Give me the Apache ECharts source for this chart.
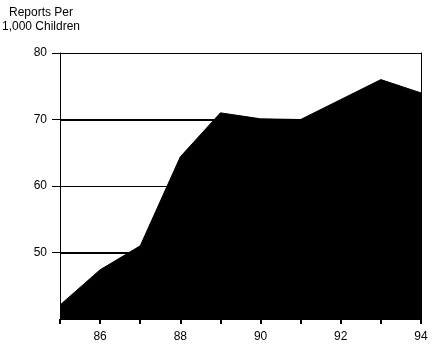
<!DOCTYPE html>
<html><head><meta charset="utf-8">
<script src="https://cdn.jsdelivr.net/npm/echarts@6/dist/echarts.min.js"></script>
<style>html,body{margin:0;padding:0;background:#fff}#c{width:436px;height:350px}</style>
</head><body><div id="c"></div>
<script>
const years = [85, 86, 87, 88, 89, 90, 91, 92, 93, 94];
const reports = [42.1, 47.4, 51.0, 64.4, 71.0, 70.1, 70.0, 73.0, 76.0, 74.0];
const yTicks = [50, 60, 70, 80];
const xLabels = [86, 88, 90, 92, 94];
const thickLines = [50, 70];
const titleLines = ['Reports Per', '1,000 Children'];

const font = 'Liberation Sans, Arial, sans-serif';
const chart = echarts.init(document.getElementById('c'));
chart.setOption({
  animation: false,
  backgroundColor: '#fff',
  grid: { left: 60, right: 15, top: 53, bottom: 31 },
  graphic: [{
    type: 'text', x: 41, y: 6,
    style: { text: titleLines.join('\n'), font: '12px ' + font, fill: '#000', align: 'center', verticalAlign: 'top', lineHeight: 14 }
  }],
  xAxis: {
    type: 'value', min: 85, max: 94, interval: 1,
    axisLine: { show: true, lineStyle: { color: '#000', width: 1 } },
    axisTick: { show: true, length: 5, lineStyle: { color: '#000', width: 2 } },
    axisLabel: { color: '#000', fontSize: 12, fontFamily: font, margin: 12,
      formatter: v => (xLabels.indexOf(v) >= 0 ? String(v) : '') },
    splitLine: { show: false }
  },
  yAxis: [{
    type: 'value', min: 40, max: 80, interval: 10,
    axisLine: { show: true, lineStyle: { color: '#000', width: 1 } },
    axisTick: { show: true, length: 8, customValues: yTicks, lineStyle: { color: '#000', width: 1 } },
    axisLabel: { color: '#000', fontSize: 12, fontFamily: font, margin: 13, customValues: yTicks },
    splitLine: { show: true, lineStyle: { color: '#000', width: 1 } }
  }, {
    type: 'value', min: 40, max: 80, interval: 10, position: 'right',
    axisLine: { show: true, lineStyle: { color: '#000', width: 1 } },
    axisTick: { show: false }, axisLabel: { show: false }, splitLine: { show: false }
  }],
  series: [{
    type: 'line', data: [], z: 1, silent: true,
    markLine: {
      symbol: 'none', silent: true, label: { show: false },
      lineStyle: { color: '#000', width: 2, type: 'solid' },
      data: thickLines.map(v => ({ yAxis: v }))
    }
  }, {
    type: 'line', z: 3,
    data: years.map((y, i) => [y, reports[i]]),
    showSymbol: false, symbol: 'none',
    lineStyle: { color: '#000', width: 1 },
    areaStyle: { color: '#000', opacity: 1, origin: 'start' }
  }]
});
</script></body></html>
